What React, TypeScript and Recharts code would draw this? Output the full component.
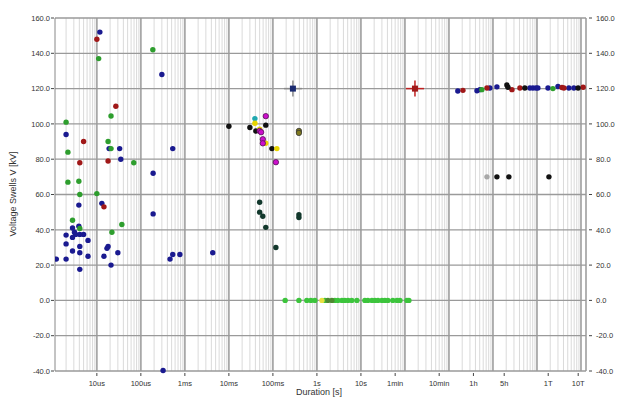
import { ScatterChart, Scatter, XAxis, YAxis, ReferenceLine } from 'recharts';

// durations in seconds, voltage in kV
const blueShort: [number, number][] = [
  [1.17e-5, 152], [3.0e-4, 128], [2.0e-6, 94], [1.9e-5, 86], [3.3e-5, 86], [5.3e-4, 86],
  [3.5e-5, 80], [1.9e-4, 72], [3.9e-6, 54], [1.3e-5, 55], [1.9e-4, 49], [3.9e-6, 42],
  [2.8e-6, 41], [3.1e-6, 38.6], [2.0e-6, 37], [3.3e-6, 37.4], [2.8e-6, 35.7], [4.1e-6, 37.4],
  [5.0e-6, 37.4], [6.3e-6, 34], [2.0e-6, 32], [4.1e-6, 30.6], [2.8e-6, 28], [4.1e-6, 27],
  [1.2e-6, 23.4], [2.0e-6, 23.4], [6.3e-6, 25], [4.1e-6, 17.6], [1.45e-5, 25], [1.8e-5, 30.6],
  [1.7e-5, 29.5], [3.0e-5, 27], [2.1e-5, 20], [4.6e-4, 23.4], [5.3e-4, 26], [7.7e-4, 26],
  [3.2e-4, -39.7], [4.3e-3, 27],
];
const greenShort: [number, number][] = [
  [1.1e-5, 137], [1.87e-4, 142], [2.1e-5, 104.5], [2.0e-6, 101], [1.8e-5, 90], [2.1e-5, 86],
  [2.2e-6, 84], [6.9e-5, 78], [2.2e-6, 67], [3.9e-6, 67.5], [4.1e-6, 60], [1.0e-5, 60.5],
  [2.8e-6, 45.4], [4.1e-6, 40.8], [2.2e-5, 38.6], [3.7e-5, 43],
];
const redShort: [number, number][] = [
  [1.0e-5, 148], [2.7e-5, 110], [5.0e-6, 90], [4.1e-6, 78], [1.8e-5, 79], [1.45e-5, 53],
];
const blackMid: [number, number][] = [
  [0.01, 98.7], [0.03, 98], [0.069, 99.3], [0.041, 96], [0.095, 86],
];
const cyanMid: [number, number][] = [[0.039, 103]];
const magentaMid: [number, number][] = [
  [0.069, 104.4], [0.05, 96], [0.054, 95.3], [0.059, 91.3], [0.059, 89], [0.117, 78.3],
];
const yellowMid: [number, number][] = [[0.039, 100.4], [0.05, 97], [0.069, 89], [0.123, 86]];
const oliveMid: [number, number][] = [[0.39, 96], [0.39, 94.9]];
const tealMid: [number, number][] = [
  [0.05, 55.6], [0.05, 50], [0.059, 47.7], [0.069, 41.4], [0.117, 30], [0.39, 48.5], [0.39, 47],
];
const crossBlue: [number, number][] = [[0.285, 120]];
const crossRed: [number, number][] = [[169, 120]];
const zeroGreen: [number, number][] = [
  [0.19, 0], [0.39, 0], [0.59, 0], [0.73, 0], [0.9, 0], [1.52, 0], [2.56, 0], [3.0, 0],
  [3.7, 0], [4.3, 0], [5.1, 0], [6.2, 0], [8.1, 0], [12.3, 0], [14.4, 0], [17.8, 0], [20.8, 0],
  [24.4, 0], [30, 0], [35, 0], [41, 0], [53, 0], [66, 0], [77, 0], [111, 0], [123, 0],
];
const zeroDark: [number, number][] = [[1.78, 0], [2.19, 0]];
const zeroYellow: [number, number][] = [[1.3, 0]];
const blueLong: [number, number][] = [
  [1590, 118.6], [4330, 118.8], [5060, 119.4], [8500, 120.3], [12300, 121], [69000, 120.3],
  [81000, 120.3], [95000, 120.3], [105000, 120.3], [178000, 120.3], [300000, 121.2],
  [530000, 120.3], [690000, 120.3],
];
const redLong: [number, number][] = [
  [2080, 119], [7300, 120.3], [27000, 119.4], [41000, 120.3], [370000, 120.6], [410000, 120.3],
  [1.12e6, 120.8],
];
const greenLong: [number, number][] = [[5600, 119.4], [230000, 120]];
const blackLong: [number, number][] = [[20700, 122], [21900, 120.8], [53000, 120.3], [860000, 120.3]];
const grayLong: [number, number][] = [[7300, 70]];
const black70: [number, number][] = [[12300, 70], [23000, 70], [187000, 70]];

const xTicks = [1e-5, 1e-4, 1e-3, 1e-2, 0.1, 1, 10, 60, 600, 3600, 18000, 180000, 864000];
const xTickLabels = ['10us', '100us', '1ms', '10ms', '100ms', '1s', '10s', '1min', '10min', '1h', '5h', '1T', '10T'];
const yTicks = [-40, -20, 0, 20, 40, 60, 80, 100, 120, 140, 160];

const decades = [-6, -5, -4, -3, -2, -1, 0, 1, 2, 3, 4, 5, 6];
const minorLines: number[] = [];
const majorLines: number[] = [];
decades.forEach((d) => {
  for (let k = 1; k <= 9; k++) {
    const v = k * Math.pow(10, d);
    if (v < 1.12e-6 || v > 1.3e6) continue;
    if (k === 1) majorLines.push(v);
    else minorLines.push(v);
  }
});

const FONT = 'Liberation Sans, Arial, sans-serif';
const toPts = (arr: [number, number][]) => arr.map(([x, y]) => ({ x, y }));

const dot = (color: string, stroke?: string) => (p: any) => (
  <circle cx={p.cx} cy={p.cy} r={2.7} fill={color} stroke={stroke || 'none'} strokeWidth={0.8} />
);

const cross = (color: string, arm: string) => (p: any) => (
  <g>
    <line x1={p.cx - 9} x2={p.cx + 9} y1={p.cy} y2={p.cy} stroke={arm} strokeWidth={1.5} />
    <line x1={p.cx} x2={p.cx} y1={p.cy - 8} y2={p.cy + 8} stroke={arm} strokeWidth={1.5} />
    <rect x={p.cx - 3} y={p.cy - 3} width={6} height={6} fill={color} />
  </g>
);

const XTick = (p: any) => {
  const i = xTicks.indexOf(p.payload.value);
  return (
    <g>
      <line x1={p.x} x2={p.x} y1={373} y2={376} stroke="#444" />
      <text x={p.x} y={386} textAnchor="middle" fontSize={7.5} fontFamily={FONT} fill="#333">
        {xTickLabels[i]}
      </text>
    </g>
  );
};

const LeftTick = (p: any) => (
  <g>
    <line x1={51} x2={54} y1={p.y} y2={p.y} stroke="#444" />
    <text x={50} y={p.y + 2.7} textAnchor="end" fontSize={7.5} fontFamily={FONT} fill="#333">
      {Number(p.payload.value).toFixed(1)}
    </text>
  </g>
);

const RightTick = (p: any) => (
  <g>
    <line x1={589} x2={592} y1={p.y} y2={p.y} stroke="#444" />
    <text x={596} y={p.y + 2.7} textAnchor="start" fontSize={7.5} fontFamily={FONT} fill="#333">
      {Number(p.payload.value).toFixed(1)}
    </text>
  </g>
);

const series: { data: [number, number][]; shape: any }[] = [
  { data: zeroGreen, shape: dot('#3cc43c') },
  { data: zeroDark, shape: dot('#4d8a30') },
  { data: zeroYellow, shape: dot('#e8e040') },
  { data: blueShort, shape: dot('#1a1a90') },
  { data: greenShort, shape: dot('#2e9e2e') },
  { data: redShort, shape: dot('#a01818') },
  { data: tealMid, shape: dot('#12382c') },
  { data: blackMid, shape: dot('#111111') },
  { data: cyanMid, shape: dot('#20a8b0') },
  { data: yellowMid, shape: dot('#e8d400') },
  { data: magentaMid, shape: dot('#cc10cc', '#551155') },
  { data: oliveMid, shape: dot('#807a20', '#333') },
  { data: blueLong, shape: dot('#1a1a90') },
  { data: redLong, shape: dot('#a01818') },
  { data: greenLong, shape: dot('#2e9e2e') },
  { data: blackLong, shape: dot('#111111') },
  { data: grayLong, shape: dot('#a8a8a8') },
  { data: black70, shape: dot('#111111') },
  { data: crossBlue, shape: cross('#1a2a70', '#8a8a8a') },
  { data: crossRed, shape: cross('#a01818', '#c02020') },
];

export default function App() {
  return (
    <div style={{ position: 'absolute', left: 0, top: 0, width: 620, height: 398, background: '#fff' }}>
      <ScatterChart width={620} height={398} margin={{ top: 18, right: 3, bottom: 0, left: 8 }}>
        <XAxis
          dataKey="x"
          type="number"
          scale="log"
          domain={[1.12e-6, 1.3e6]}
          allowDataOverflow
          ticks={xTicks}
          interval={0}
          height={27}
          axisLine={false}
          tickLine={false}
          tick={<XTick />}
          label={{
            content: () => (
              <text x={319} y={395} textAnchor="middle" fontSize={9} fontFamily={FONT} fill="#333">
                Duration [s]
              </text>
            ),
          }}
        />
        <YAxis
          yAxisId="left"
          dataKey="y"
          type="number"
          domain={[-40, 160]}
          ticks={yTicks}
          interval={0}
          width={47}
          axisLine={{ stroke: '#888' }}
          tickLine={false}
          tick={<LeftTick />}
          label={{
            content: () => (
              <text x={16} y={194} transform="rotate(-90 16 194)" textAnchor="middle" fontSize={9} fontFamily={FONT} fill="#333">
                Voltage Swells V [kV]
              </text>
            ),
          }}
        />
        <YAxis
          yAxisId="right"
          orientation="right"
          dataKey="y"
          type="number"
          domain={[-40, 160]}
          ticks={yTicks}
          interval={0}
          width={31}
          axisLine={{ stroke: '#999', strokeWidth: 1.5 }}
          tickLine={false}
          tick={<RightTick />}
        />
        {minorLines.map((v) => (
          <ReferenceLine key={'m' + v} x={v} yAxisId="left" stroke="#dadada" strokeWidth={1} />
        ))}
        {majorLines.map((v) => (
          <ReferenceLine key={'M' + v} x={v} yAxisId="left" stroke="#a8a8a8" strokeWidth={1.8} />
        ))}
        {yTicks.map((v) => (
          <ReferenceLine key={'h' + v} y={v} yAxisId="left" stroke="#9a9a9a" strokeWidth={1.3} />
        ))}
        {series.map((s, i) => (
          <Scatter key={i} yAxisId="left" data={toPts(s.data)} shape={s.shape} isAnimationActive={false} />
        ))}
        <Scatter yAxisId="right" data={toPts(crossRed)} shape={() => <g />} isAnimationActive={false} />
      </ScatterChart>
    </div>
  );
}
